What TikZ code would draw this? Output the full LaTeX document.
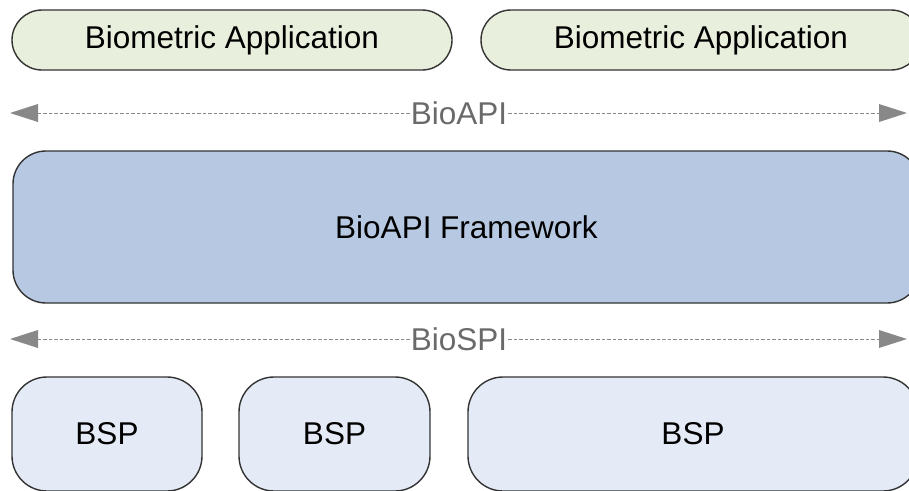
\documentclass[tikz,border=0pt]{standalone}
\usepackage{fontspec}
\setmainfont{Liberation Sans}
\usetikzlibrary{arrows.meta}

\definecolor{appfill}{HTML}{E8EFDD}
\definecolor{fwfill}{HTML}{B7C9E2}
\definecolor{bspfill}{HTML}{E4EBF6}
\definecolor{boxline}{HTML}{333333}
\definecolor{ifacegray}{HTML}{888888}
\definecolor{ifacetext}{HTML}{6A6A6A}

\tikzset{
  block/.style={draw=boxline, line width=1.4pt, rectangle, inner sep=0pt,
    text=black, font=\fontsize{31.5}{36}\selectfont},
  appbox/.style={block, fill=appfill, rounded corners=30pt,
    minimum width=440pt, minimum height=60pt},
  fwbox/.style={block, fill=fwfill, rounded corners=33pt,
    minimum width=907pt, minimum height=152pt},
  bspbox/.style={block, fill=bspfill, rounded corners=35pt, minimum height=114pt},
  ifacelabel/.style={inner sep=0pt, outer sep=1pt, text=ifacetext,
    font=\fontsize{31.5}{36}\selectfont},
  ifaceline/.style={draw=ifacegray, line width=0.7pt, dash pattern=on 3.5pt off 2pt,
    -{Triangle[length=28pt,width=18pt,fill=ifacegray,line width=0pt]}}
}

\begin{document}
\begin{tikzpicture}[x=1pt,y=-1pt]
  \useasboundingbox (0,0) rectangle (909,490);
  \clip (0,0) rectangle (909,490);

  % applications
  \node[appbox] (app1) at (232,40) {Biometric Application};
  \node[appbox] (app2) at (701,40) {Biometric Application};

  % BioAPI interface
  \node[ifacelabel] (api) at (459,113) {BioAPI};
  \coordinate (apiL) at (10,113);
  \coordinate (apiR) at (907,113);
  \draw[ifaceline] (api.west) -- (apiL);
  \draw[ifaceline] (api.east) -- (apiR);

  % framework
  \node[fwbox] (fw) at (466.5,227) {BioAPI Framework};

  % BioSPI interface
  \node[ifacelabel] (spi) at (459,339) {BioSPI};
  \coordinate (spiL) at (10,339);
  \coordinate (spiR) at (907,339);
  \draw[ifaceline] (spi.west) -- (spiL);
  \draw[ifaceline] (spi.east) -- (spiR);

  % service providers
  \node[bspbox, minimum width=190pt] (bsp1) at (107,434) {BSP};
  \node[bspbox, minimum width=191pt] (bsp2) at (334.5,434) {BSP};
  \node[bspbox, minimum width=450pt] (bsp3) at (693,434) {BSP};
\end{tikzpicture}
\end{document}
